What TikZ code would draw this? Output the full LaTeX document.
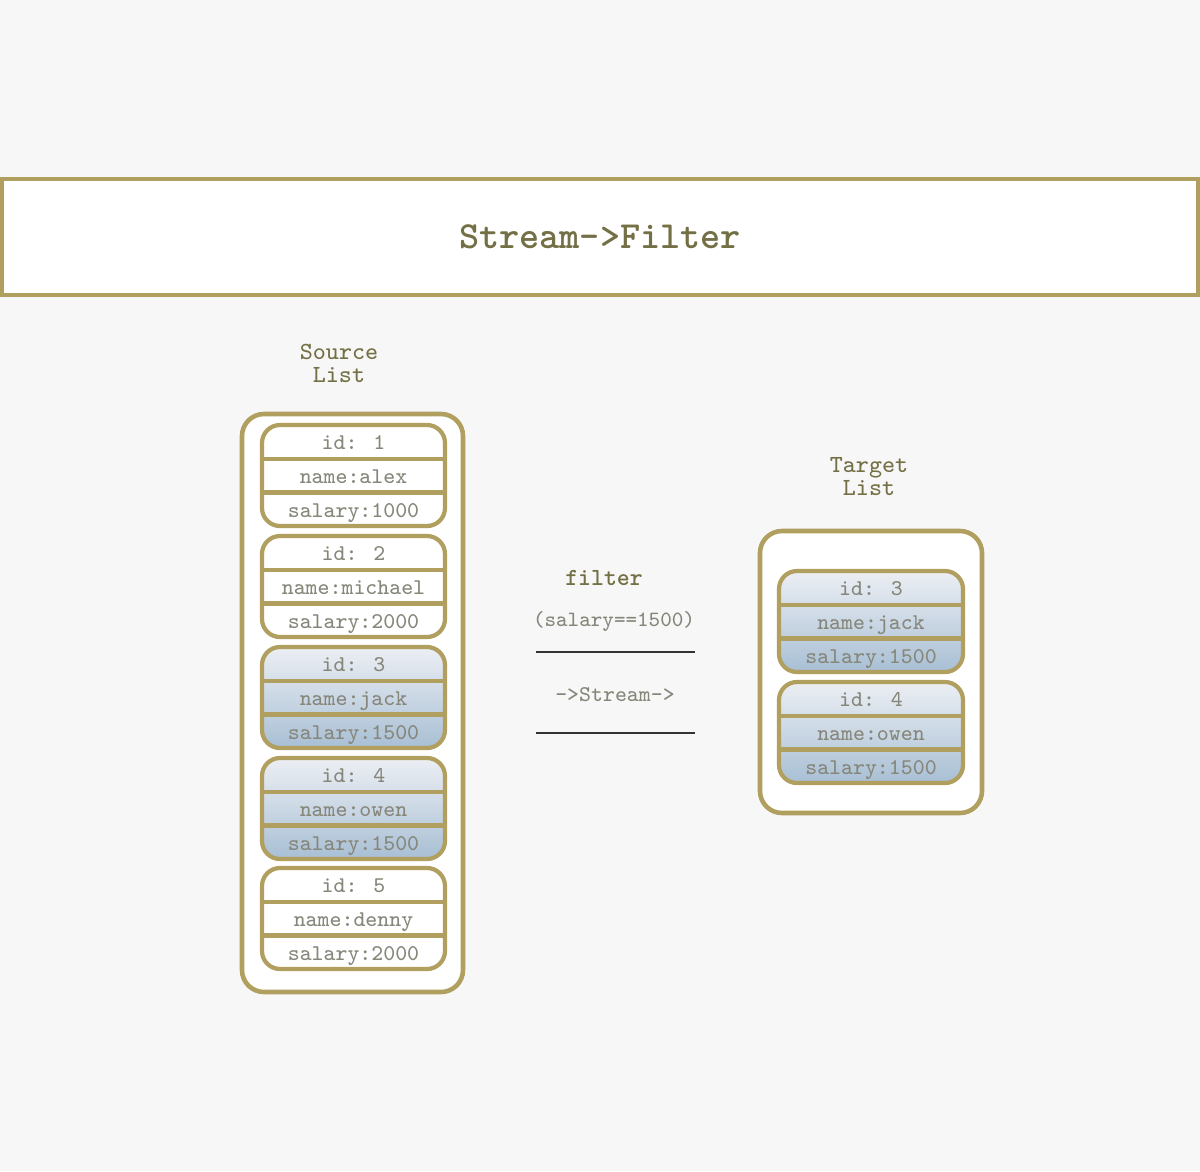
\documentclass[tikz,border=0pt]{standalone}
\usepackage{fontspec}
\renewcommand{\familydefault}{\ttdefault}
\usepackage{tikz}
\usepackage{xcolor}
\definecolor{frame}{RGB}{176,159,94}
\definecolor{olivetext}{RGB}{116,112,70}
\definecolor{greytext}{RGB}{134,134,122}
\definecolor{bgcol}{RGB}{247,247,247}
\definecolor{bluetop}{RGB}{236,239,244}
\definecolor{bluebot}{RGB}{168,191,212}

\begin{document}
\begin{tikzpicture}[
	rec/.style={draw=frame, line width=1.2pt, rounded corners=0.18cm, fill=white},
	recblue/.style={draw=frame, line width=1.2pt, rounded corners=0.18cm, top color=bluetop, bottom color=bluebot},
	sep/.style={draw=frame, line width=1.4pt},
	field/.style={text=greytext, font=\fontsize{6.4pt}{8pt}\selectfont, inner sep=0pt, text height=0.62em, text depth=0.18em},
	caption/.style={text=olivetext, align=center, font=\fontsize{7pt}{6.6pt}\selectfont, inner sep=0pt}
	]
				\useasboundingbox (0,0) rectangle (12,-11.71);
				\fill[bgcol] (0,0) rectangle (12,-11.71);
				% title bar
				\draw[frame, line width=1.2pt, fill=white] (0.02,-1.79) rectangle (11.98,-2.95);
				\node[text=olivetext, font=\bfseries\fontsize{10.9pt}{13pt}\selectfont] (title) at (6,-2.37){Stream->Filter};
				% source list
				\node[caption] (src) at (3.39,-3.635){Source\\List};
				\draw[frame, line width=1.3pt, fill=white, rounded corners=0.22cm] (2.42,-4.14) rectangle (4.63,-9.92);
				\draw[rec] (2.62,-4.25) rectangle (4.45,-5.26);
				\draw[sep] (2.62,-4.59)--(4.45,-4.59);
				\draw[sep] (2.62,-4.925)--(4.45,-4.925);
				\node[field] (id1) at (3.535,-4.42){id: 1};
				\node[field] (name1) at (3.535,-4.76){name:alex};
				\node[field] (sal1) at (3.535,-5.095){salary:1000};
				\draw[rec] (2.62,-5.36) rectangle (4.45,-6.37);
				\draw[sep] (2.62,-5.70)--(4.45,-5.70);
				\draw[sep] (2.62,-6.035)--(4.45,-6.035);
				\node[field] (id2) at (3.535,-5.53){id: 2};
				\node[field] (name2) at (3.535,-5.87){name:michael};
				\node[field] (sal2) at (3.535,-6.205){salary:2000};
				\draw[recblue] (2.62,-6.47) rectangle (4.45,-7.48);
				\draw[sep] (2.62,-6.81)--(4.45,-6.81);
				\draw[sep] (2.62,-7.145)--(4.45,-7.145);
				\node[field] (id3) at (3.535,-6.64){id: 3};
				\node[field] (name3) at (3.535,-6.98){name:jack};
				\node[field] (sal3) at (3.535,-7.315){salary:1500};
				\draw[recblue] (2.62,-7.58) rectangle (4.45,-8.59);
				\draw[sep] (2.62,-7.92)--(4.45,-7.92);
				\draw[sep] (2.62,-8.255)--(4.45,-8.255);
				\node[field] (id4) at (3.535,-7.75){id: 4};
				\node[field] (name4) at (3.535,-8.09){name:owen};
				\node[field] (sal4) at (3.535,-8.425){salary:1500};
				\draw[rec] (2.62,-8.68) rectangle (4.45,-9.69);
				\draw[sep] (2.62,-9.02)--(4.45,-9.02);
				\draw[sep] (2.62,-9.355)--(4.45,-9.355);
				\node[field] (id5) at (3.535,-8.85){id: 5};
				\node[field] (name5) at (3.535,-9.19){name:denny};
				\node[field] (sal5) at (3.535,-9.525){salary:2000};
				% filter step
				\node[text=olivetext, font=\bfseries\fontsize{7pt}{9pt}\selectfont] (flt) at (6.04,-5.78){filter};
				\node[field, font=\fontsize{6.2pt}{8pt}\selectfont] (cond) at (6.14,-6.19){(salary==1500)};
				\node[field] (strm) at (6.15,-6.94){->Stream->};
				\coordinate (la) at (5.36,-6.52);
				\coordinate (lb) at (6.95,-6.52);
				\coordinate (lc) at (5.36,-7.33);
				\coordinate (ld) at (6.95,-7.33);
				\draw[black!80, line width=0.5pt] (la)--(lb);
				\draw[black!80, line width=0.5pt] (lc)--(ld);
				% target list
				\node[caption] (tgt) at (8.69,-4.765){Target\\List};
				\draw[frame, line width=1.3pt, fill=white, rounded corners=0.22cm] (7.60,-5.31) rectangle (9.82,-8.13);
				\draw[recblue] (7.79,-5.71) rectangle (9.63,-6.72);
				\draw[sep] (7.79,-6.05)--(9.63,-6.05);
				\draw[sep] (7.79,-6.385)--(9.63,-6.385);
				\node[field] (tid3) at (8.71,-5.88){id: 3};
				\node[field] (tname3) at (8.71,-6.22){name:jack};
				\node[field] (tsal3) at (8.71,-6.555){salary:1500};
				\draw[recblue] (7.79,-6.82) rectangle (9.63,-7.83);
				\draw[sep] (7.79,-7.16)--(9.63,-7.16);
				\draw[sep] (7.79,-7.495)--(9.63,-7.495);
				\node[field] (tid4) at (8.71,-6.99){id: 4};
				\node[field] (tname4) at (8.71,-7.33){name:owen};
				\node[field] (tsal4) at (8.71,-7.665){salary:1500};
			\end{tikzpicture}
\end{document}
